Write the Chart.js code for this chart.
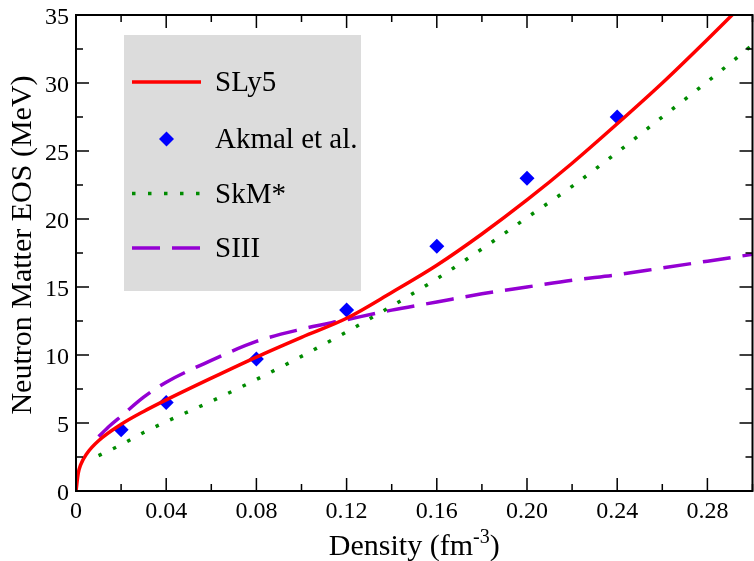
<!DOCTYPE html>
<html>
<head>
<meta charset="utf-8">
<script src="https://cdn.jsdelivr.net/npm/chart.js@4/dist/chart.umd.min.js"></script>
<style>
  html, body { margin: 0; padding: 0; background: #fff; overflow: hidden; }
  #wrap { width: 760px; height: 561px; }
</style>
</head>
<body>
<div id="wrap"><canvas id="eos" width="760" height="561"></canvas></div>
<script>
// density (fm^-3) and energy per neutron (MeV)
const sly5X = [0, 0.001, 0.002, 0.005, 0.01, 0.02, 0.03, 0.04, 0.06, 0.08, 0.10, 0.12, 0.14, 0.16, 0.18, 0.20, 0.22, 0.24, 0.26, 0.28, 0.30];
const sly5Y = [0, 1.3, 1.9, 2.8, 3.7, 4.9, 5.85, 6.7, 8.3, 9.85, 11.3, 12.7, 14.6, 16.6, 18.9, 21.4, 24.1, 27.0, 30.0, 33.2, 36.5];

const akmalX = [0.02, 0.04, 0.08, 0.12, 0.16, 0.20, 0.24];
const akmalY = [4.5, 6.5, 9.7, 13.3, 18.0, 23.0, 27.5];

const skmX = [0.01, 0.02, 0.03, 0.04, 0.06, 0.08, 0.10, 0.12, 0.14, 0.16, 0.18, 0.20, 0.22, 0.24, 0.26, 0.28, 0.30];
const skmY = [2.6, 3.4, 4.3, 5.1, 6.6, 8.2, 9.9, 11.7, 13.6, 15.6, 17.8, 20.1, 22.4, 24.9, 27.5, 30.1, 32.8];

const s3X = [0.01, 0.015, 0.02, 0.03, 0.04, 0.06, 0.08, 0.10, 0.12, 0.14, 0.16, 0.18, 0.20, 0.22, 0.24, 0.26, 0.28, 0.30];
const s3Y = [4.0, 4.8, 5.5, 6.9, 8.0, 9.6, 11.0, 11.9, 12.6, 13.3, 13.9, 14.5, 15.0, 15.5, 15.9, 16.4, 16.9, 17.4];

const xTickLabels = ['0', '0.04', '0.08', '0.12', '0.16', '0.20', '0.24', '0.28'];
const yTickLabels = ['0', '5', '10', '15', '20', '25', '30', '35'];

const FONT = "'Liberation Serif', 'Times New Roman', serif";

function pts(xs, ys) {
    return xs.map((x, i) => ({ x: x, y: ys[i] }));
}

// gray legend box sitting inside the plot
const boxLegend = {
    id: 'boxLegend',
    beforeDatasetsDraw(chart) {
        const ctx = chart.ctx;
        const ds = chart.data.datasets;
        ctx.save();
        ctx.fillStyle = '#dcdcdc';
        ctx.fillRect(124, 35, 237, 256);
        const rows = [82, 139, 193.5, 248];
        ds.forEach((d, i) => {
            const y = rows[i];
            if (d.showLine === false) {
                ctx.fillStyle = d.pointBackgroundColor;
                const r = d.pointRadius;
                ctx.beginPath();
                ctx.moveTo(166.5, y - r);
                ctx.lineTo(166.5 + r, y);
                ctx.lineTo(166.5, y + r);
                ctx.lineTo(166.5 - r, y);
                ctx.closePath();
                ctx.fill();
            } else {
                ctx.strokeStyle = d.borderColor;
                ctx.lineWidth = d.borderWidth;
                ctx.setLineDash(d.borderDash || []);
                ctx.lineCap = 'butt';
                ctx.beginPath();
                ctx.moveTo(132, y);
                ctx.lineTo(201, y);
                ctx.stroke();
                ctx.setLineDash([]);
            }
            ctx.fillStyle = '#000';
            ctx.font = '29px ' + FONT;
            ctx.textBaseline = 'alphabetic';
            ctx.textAlign = 'left';
            ctx.fillText(d.label, 215, y + 9);
        });
        ctx.restore();
    }
};

// closed frame, inward major/minor ticks, tick labels, axis titles
const frame = {
    id: 'frame',
    afterDraw(chart) {
        const ctx = chart.ctx;
        const a = chart.chartArea;
        const xs = chart.scales.x;
        const ys = chart.scales.y;
        ctx.save();
        ctx.strokeStyle = '#000';
        ctx.lineWidth = 2;
        ctx.strokeRect(a.left, a.top, a.right - a.left, a.bottom - a.top);

        ctx.lineWidth = 1.5;
        ctx.beginPath();
        xs.ticks.forEach(t => {
            const p = xs.getPixelForValue(t.value);
            const len = Math.round(t.value * 100) % 4 === 0 ? 13 : 7;
            ctx.moveTo(p, a.bottom); ctx.lineTo(p, a.bottom - len);
            ctx.moveTo(p, a.top); ctx.lineTo(p, a.top + len);
        });
        ys.ticks.forEach(t => {
            const p = ys.getPixelForValue(t.value);
            const len = Math.round(t.value * 10) % 50 === 0 ? 13 : 7;
            ctx.moveTo(a.left, p); ctx.lineTo(a.left + len, p);
            ctx.moveTo(a.right, p); ctx.lineTo(a.right - len, p);
        });
        ctx.stroke();

        ctx.fillStyle = '#000';
        ctx.font = '24px ' + FONT;
        ctx.textBaseline = 'alphabetic';
        ctx.textAlign = 'center';
        xs.ticks.forEach(t => {
            const k = Math.round(t.value * 100);
            if (k % 4 !== 0) return;
            ctx.fillText(xTickLabels[k / 4], xs.getPixelForValue(t.value), a.bottom + 27);
        });
        ctx.textAlign = 'right';
        ys.ticks.forEach(t => {
            const k = Math.round(t.value * 10);
            if (k % 50 !== 0) return;
            ctx.fillText(yTickLabels[k / 50], a.left - 7, ys.getPixelForValue(t.value) + 8.5);
        });

        // x title with superscript
        const main = 'Density (fm';
        const sup = '-3';
        ctx.font = '30px ' + FONT;
        const w1 = ctx.measureText(main).width;
        const w3 = ctx.measureText(')').width;
        ctx.font = '20px ' + FONT;
        const w2 = ctx.measureText(sup).width;
        let x0 = (a.left + a.right) / 2 - (w1 + w2 + w3) / 2;
        ctx.textAlign = 'left';
        ctx.font = '30px ' + FONT;
        ctx.fillText(main, x0, 555);
        ctx.font = '20px ' + FONT;
        ctx.fillText(sup, x0 + w1, 543);
        ctx.font = '30px ' + FONT;
        ctx.fillText(')', x0 + w1 + w2, 555);

        // y title
        ctx.translate(23, 245);
        ctx.rotate(-Math.PI / 2);
        ctx.textAlign = 'center';
        ctx.textBaseline = 'middle';
        ctx.font = '30px ' + FONT;
        ctx.fillText('Neutron Matter EOS (MeV)', 0, 0);
        ctx.restore();
    }
};

new Chart(document.getElementById('eos'), {
    type: 'line',
    data: {
        datasets: [
            {
                label: 'SLy5',
                data: pts(sly5X, sly5Y),
                borderColor: '#ff0000',
                borderWidth: 3.5,
                pointRadius: 0,
                cubicInterpolationMode: 'monotone'
            },
            {
                label: 'Akmal et al.',
                data: pts(akmalX, akmalY),
                showLine: false,
                pointStyle: 'rectRot',
                pointRadius: 7.5,
                pointBackgroundColor: '#0000ff',
                pointBorderColor: '#0000ff',
                pointBorderWidth: 0
            },
            {
                label: 'SkM*',
                data: pts(skmX, skmY),
                borderColor: '#008b00',
                borderWidth: 3.5,
                borderDash: [3.5, 12.5],
                pointRadius: 0,
                cubicInterpolationMode: 'monotone'
            },
            {
                label: 'SIII',
                data: pts(s3X, s3Y),
                borderColor: '#9400d3',
                borderWidth: 3.5,
                borderDash: [28, 12],
                pointRadius: 0,
                cubicInterpolationMode: 'monotone'
            }
        ]
    },
    options: {
        responsive: false,
        animation: false,
        devicePixelRatio: 1,
        layout: { padding: { top: 15, right: 2, left: 0, bottom: 0 } },
        plugins: { legend: { display: false }, tooltip: { enabled: false } },
        scales: {
            x: {
                type: 'linear',
                min: 0,
                max: 0.30,
                afterFit: s => { s.height = 70; },
                grid: { display: false, drawTicks: false },
                border: { display: false },
                ticks: { stepSize: 0.02, autoSkip: false, display: false }
            },
            y: {
                min: 0,
                max: 35,
                afterFit: s => { s.width = 76; },
                grid: { display: false, drawTicks: false },
                border: { display: false },
                ticks: { stepSize: 2.5, autoSkip: false, display: false }
            }
        }
    },
    plugins: [boxLegend, frame]
});
</script>
</body>
</html>
